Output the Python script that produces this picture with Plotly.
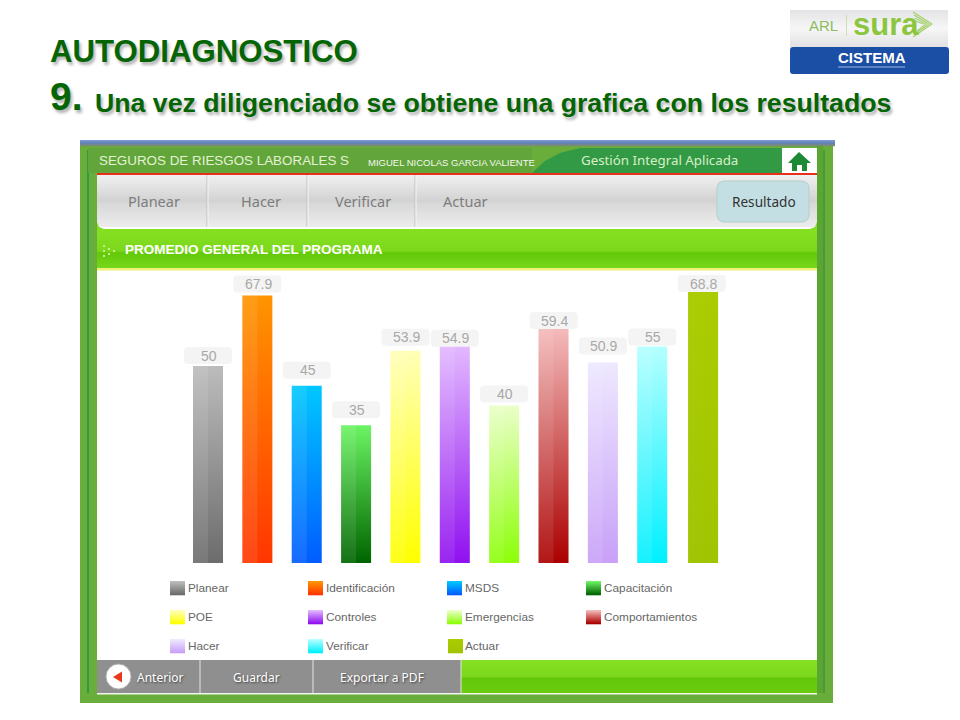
import json
import plotly.graph_objects as go

# chart data
categories = ["Planear", "Identificación", "MSDS", "Capacitación", "POE", "Controles",
              "Emergencias", "Comportamientos", "Hacer", "Verificar", "Actuar"]
values = [50, 67.9, 45, 35, 53.9, 54.9, 40, 59.4, 50.9, 55, 68.8]
value_labels = ["50", "67.9", "45", "35", "53.9", "54.9", "40", "59.4", "50.9", "55", "68.8"]
top_colors = ["#bcbcbc", "#ff9400", "#00c8ff", "#6cf464", "#ffffb8", "#e2b8ff",
              "#eaffc8", "#f4baba", "#eee8ff", "#b4ffff", "#aacc00"]
bottom_colors = ["#6c6c6c", "#ff3600", "#005cff", "#006400", "#ffff00", "#9010f0",
                 "#8cff08", "#aa0000", "#c8a0f8", "#00f0ff", "#a0c400"]

nav_items = ["Planear", "Hacer", "Verificar", "Actuar"]
footer_items = ["Anterior", "Guardar", "Exportar a PDF"]

FONT = "Liberation Sans, Arial, sans-serif"
UI_FONT = "Noto Sans, Open Sans, sans-serif"
DARK_GREEN = "#056505"


def px(x):
    return x / 960


def py(y):
    return 1 - y / 720


shapes = []
notes = []


def rect(x0, y0, x1, y1, color, line=None):
    shapes.append(dict(type="rect", xref="paper", yref="paper", layer="below",
                       x0=px(x0), x1=px(x1), y0=py(y0), y1=py(y1), fillcolor=color,
                       line=dict(width=1 if line else 0, color=line or color)))


def path(points, color):
    d = "M " + " L ".join(f"{px(x):.5f},{py(y):.5f}" for x, y in points) + " Z"
    shapes.append(dict(type="path", xref="paper", yref="paper", layer="below", path=d,
                       fillcolor=color, line=dict(width=0)))


def polyline(points, color, width=1.2):
    d = "M " + " L ".join(f"{px(x):.5f},{py(y):.5f}" for x, y in points)
    shapes.append(dict(type="path", xref="paper", yref="paper", layer="below", path=d,
                       line=dict(width=width, color=color)))


def rrect(x0, y0, x1, y1, r, color, line=None):
    # rounded box, corners as quadratic curves
    def c(x, y):
        return f"{px(x):.5f},{py(y):.5f}"
    d = (f"M {c(x0 + r, y0)} L {c(x1 - r, y0)} Q {c(x1, y0)} {c(x1, y0 + r)} L {c(x1, y1 - r)} "
         f"Q {c(x1, y1)} {c(x1 - r, y1)} L {c(x0 + r, y1)} Q {c(x0, y1)} {c(x0, y1 - r)} "
         f"L {c(x0, y0 + r)} Q {c(x0, y0)} {c(x0 + r, y0)} Z")
    shapes.append(dict(type="path", xref="paper", yref="paper", layer="below", path=d, fillcolor=color,
                       line=dict(width=1 if line else 0, color=line or color)))


def hex_rgb(c):
    return [int(c[i:i + 2], 16) for i in (1, 3, 5)]


def vgrad(x0, y0, x1, y1, stops):
    # vertical gradient made of 1px strips, stops = [(pos, colour), ...]
    y = y0
    while y < y1:
        t = (y - y0) / max(y1 - y0 - 1, 1)
        for (a, ca), (b, cb) in zip(stops, stops[1:]):
            if a <= t <= b:
                f = (t - a) / (b - a) if b > a else 0
                rgb = [round(u + (v - u) * f) for u, v in zip(hex_rgb(ca), hex_rgb(cb))]
                break
        rect(x0, y, x1, min(y + 1, y1) + 0.3, f"rgb({rgb[0]},{rgb[1]},{rgb[2]})")
        y += 1


def text(x, y, s, size, color, anchor="left", family=FONT, bold=False, shadow=None):
    notes.append(dict(xref="paper", yref="paper", x=px(x), y=py(y), text=f"<b>{s}</b>" if bold else s,
                      showarrow=False, xanchor=anchor, yanchor="middle", borderpad=0,
                      font=dict(size=size, color=color, family=family, shadow=shadow or "none")))


# slide title
title_shadow = "2px 3px 3px #b4b4b4"
text(49, 52, "AUTODIAGNOSTICO", 31.2, DARK_GREEN, bold=True, shadow=title_shadow)
text(49, 97, "9.", 39, DARK_GREEN, bold=True, shadow=title_shadow)
text(94, 103, "Una vez diligenciado se obtiene una grafica con los resultados", 26.7, DARK_GREEN,
     bold=True, shadow=title_shadow)

# logo
vgrad(790, 10, 948, 47, [(0, "#e4e4e6"), (0.5, "#f6f6f6"), (1, "#e2e2e4")])
rrect(790, 47, 949, 74, 3, "#1b4fa6")
text(808, 26, "ARL", 15, "#8dbb5e")
rect(846, 15, 846.8, 36, "#c4d8a8")
text(852, 25, "sura", 31, "#8cc63f", family="Liberation Sans Narrow, Liberation Sans, sans-serif", bold=True)
for i in range(4):
    polyline([(913 + i, 12 + i * 3), (932 - i * 3, 24)], "#a5cf6a")
for i in range(3):
    polyline([(932 - i * 3, 24), (913 + i * 2, 37 - i * 3)], "#a5cf6a")
text(871.5, 57.5, "CISTEMA", 15, "#ffffff", anchor="center", bold=True)
polyline([(838, 67), (905, 67)], "#c0d2ec", width=0.8)

# application frame
rect(80, 146, 833, 703, "#69ad3a")
vgrad(80, 140, 835, 146, [(0, "#7a9ad0"), (0.5, "#5f80ba"), (1, "#7c8a78")])
rect(87, 150, 89, 693, "#2f9a44")
rect(88, 148, 97, 173, "#62a53a")
rect(817, 146, 823, 693, "#5ba632")
rect(823, 150, 825, 693, "#4a9a38")
rect(97, 270, 817, 660, "#ffffff")

# header strip
rect(97, 148, 532, 173, "#62a53a")
path([(532, 173), (545, 161), (560, 153), (580, 148), (817, 148), (817, 173)], "#329a45")
rect(782, 148, 817, 173, "#ffffff")
path([(799, 152), (811, 163), (807, 163), (807, 171), (802, 171), (802, 165), (797, 165), (797, 171),
      (792, 171), (792, 163), (788, 163)], "#1c8a34")
rect(97, 173, 817, 175, "#e8301c")
text(98, 160.5, "SEGUROS DE RIESGOS LABORALES S", 13.4, "#e4f2d4")
text(367, 162.5, "MIGUEL NICOLAS GARCIA VALIENTE", 9.5, "#f4f8ee")
text(580, 159.5, "Gestión Integral Aplicada", 13.3, "#d8efc8", family=UI_FONT)

# nav
vgrad(97, 175, 817, 227, [(0, "#f0f0f0"), (0.5, "#d2d2d2"), (0.55, "#d8d8d8"), (1, "#ececec")])
rect(97, 227, 817, 229, "#ffffff")
for sep_x in [208, 308, 416]:
    rect(sep_x - 1.5, 175, sep_x - 0.5, 227, "#bdbdbd")
    rect(sep_x - 0.5, 175, sep_x + 0.5, 227, "#f6f6f6")
for item, item_x in zip(nav_items, [153.5, 261, 362.5, 465]):
    text(item_x, 201, item, 14.5, "#7d7d7d", anchor="center", family=UI_FONT)
rrect(717, 181, 809, 222, 8, "#c4dfe3", line="#b2cfc9")
text(764, 201.5, "Resultado", 13.6, "#333333", anchor="center", family=UI_FONT)

# section band
vgrad(97, 229, 817, 269, [(0, "#86e022"), (0.55, "#7cd81c"), (0.6, "#62c808"), (1, "#78d81c")])
path([(97, 222), (97, 229), (104, 229), (99, 227)], "#80dc20")
path([(817, 222), (817, 229), (810, 229), (815, 227)], "#80dc20")
rect(97, 268, 817, 270.5, "#eef07a")
for dot_x, dot_y in [(103, 245), (103, 250), (103, 255), (108, 248), (108, 253), (113, 250)]:
    rect(dot_x, dot_y, dot_x + 2, dot_y + 2, "#c4ee88")
text(124, 249, "PROMEDIO GENERAL DEL PROGRAMA", 13.5, "#ffffff", bold=True)

# custom legend in four columns
legend_cols = [170, 308, 447, 586]
legend_rows = [588, 617, 646]
for i, name in enumerate(categories):
    lx = legend_cols[i % 4] + (1 if i == 10 else 0)
    ly = legend_rows[i // 4]
    vgrad(lx, ly - 7, lx + 15, ly + 7, [(0, top_colors[i]), (1, bottom_colors[i])])
    text(lx + 17 - (1 if i == 10 else 0), ly, name, 11.8, "#666666")

# footer
rect(97, 660, 461, 693, "#8f8f8f")
vgrad(461, 660, 817, 693, [(0, "#86e022"), (0.5, "#7cd81c"), (0.55, "#62c808"), (1, "#6ccc10")])
rect(97, 693, 817, 694.5, "#f2f6ec")
for sep_x in [200, 313, 461]:
    rect(sep_x - 0.5, 660, sep_x + 0.5, 693, "#e4e4e4")
shapes.append(dict(type="circle", xref="paper", yref="paper", layer="below", x0=px(106), x1=px(131),
                   y0=py(689), y1=py(664), fillcolor="#ffffff", line=dict(width=1, color="#b0b0b0")))
path([(113, 677), (122, 671.5), (122, 682.5)], "#e8391c")
for item, item_x in zip(footer_items, [159.5, 256.5, 381.5]):
    text(item_x, 677, item, 12, "#ffffff", anchor="center", family=UI_FONT, shadow="1px 1px 2px #444444")

# bar geometry in category units; Actuar sits a touch right of the even spacing
bar_width = 0.608
bar_nudge = [0, 0, 0, 0, 0, 0, 0, 0, 0, 0, 0.03]
label_gap = [2, 3, 7, 7, 5, 0, 3, 0, 8, 1, 0]

fig = go.Figure()
fig.add_trace(go.Bar(x=categories, y=values, width=bar_width,
                     offset=[n - bar_width / 2 for n in bar_nudge],
                     marker=dict(color=bottom_colors, line=dict(width=0)),
                     showlegend=False, hoverinfo="x+y"))
# lighter left half on every bar
fig.add_trace(go.Bar(x=categories, y=values, width=bar_width / 2,
                     offset=[n - bar_width / 2 for n in bar_nudge],
                     marker=dict(color=["rgba(255,255,255,0.09)"] * 10 + ["rgba(255,255,255,0.02)"],
                                 line=dict(width=0)),
                     showlegend=False, hoverinfo="skip"))

pill = ("M -20,{b} L 20,{b} Q 24,{b} 24,{b1} L 24,{t1} Q 24,{t} 20,{t} "
        "L -20,{t} Q -24,{t} -24,{t1} L -24,{b1} Q -24,{b} -20,{b} Z")
for name, val, lab, gap, nudge in zip(categories, values, value_labels, label_gap, bar_nudge):
    shift = round(nudge * 49.36) + 1
    shapes.append(dict(type="path", layer="below", xref="x", yref="y", xsizemode="pixel", ysizemode="pixel",
                       xanchor=name, yanchor=val, fillcolor="#f4f4f4", line=dict(width=0),
                       path=pill.format(b=gap, b1=gap + 4, t=gap + 17, t1=gap + 13)))
    notes.append(dict(x=name, y=val, xref="x", yref="y", text=lab, showarrow=False, yanchor="middle",
                      yshift=gap + 8.5, xshift=shift, borderpad=0,
                      font=dict(size=14, color="#a8a8a8", family=FONT)))

fig.update_layout(
    width=960, height=720, margin=dict(l=0, r=0, t=0, b=0), autosize=False,
    paper_bgcolor="#ffffff", plot_bgcolor="rgba(0,0,0,0)", barmode="overlay",
    shapes=shapes, annotations=notes, showlegend=False,
    xaxis=dict(domain=[px(97), px(817)], range=[-2.249, 12.338], visible=False,
               type="category", categoryorder="array", categoryarray=categories),
    yaxis=dict(domain=[py(563), py(270)], range=[0, 74.4], visible=False),
)

# plotly bars have no gradient fill, so swap the fills once the plot is drawn
post = """
document.documentElement.style.overflow = 'hidden';
document.body.style.margin = '0';
var tops = %s, bots = %s;
var svg = document.querySelector('.main-svg');
var ns = 'http://www.w3.org/2000/svg';
var defs = document.createElementNS(ns, 'defs');
svg.insertBefore(defs, svg.firstChild);
var paths = document.querySelectorAll('.barlayer .trace:first-child .point path');
paths.forEach(function (p, i) {
  var g = document.createElementNS(ns, 'linearGradient');
  g.setAttribute('id', 'bargrad' + i);
  g.setAttribute('x1', '0'); g.setAttribute('y1', '0');
  g.setAttribute('x2', '0'); g.setAttribute('y2', '1');
  [[0, tops[i]], [1, bots[i]]].forEach(function (s) {
    var st = document.createElementNS(ns, 'stop');
    st.setAttribute('offset', s[0]); st.setAttribute('stop-color', s[1]);
    g.appendChild(st);
  });
  defs.appendChild(g);
  p.style.fill = 'url(#bargrad' + i + ')';
});
""" % (json.dumps(top_colors), json.dumps(bottom_colors))

fig.write_html("out.html", post_script=post, config=dict(displayModeBar=False))
